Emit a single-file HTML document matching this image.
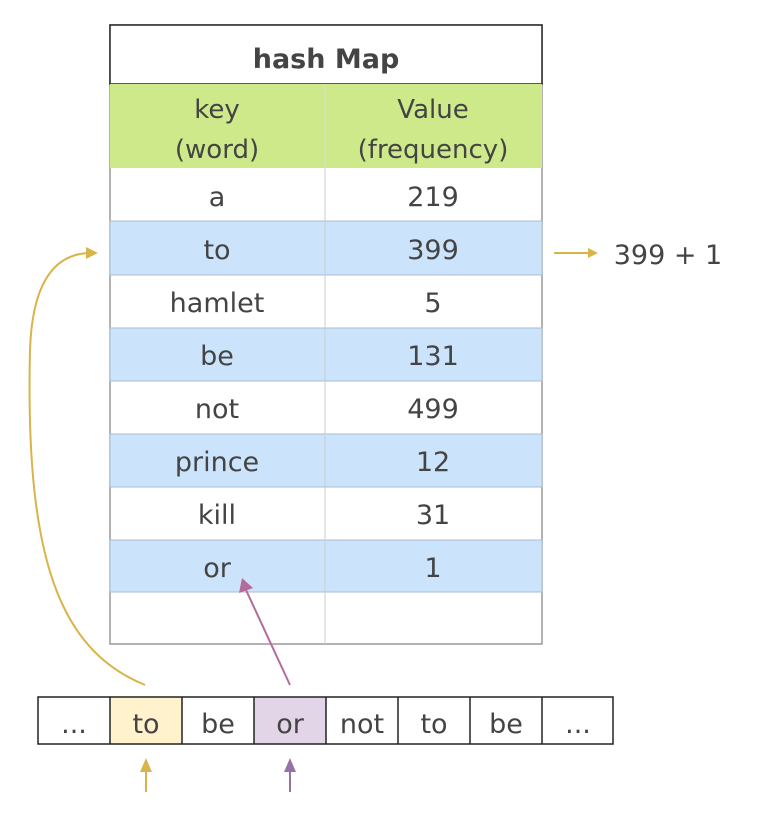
<!DOCTYPE html>
<html><head><meta charset="utf-8"><style>body{margin:0;background:#fff}svg{display:block}text{font-family:"Comic Sans MS","DejaVu Sans","Liberation Sans",sans-serif;fill:#444;text-anchor:middle}</style></head><body>
<svg width="759" height="828" viewBox="0 0 759 828" xmlns="http://www.w3.org/2000/svg">
<rect x="110" y="25" width="432" height="619" fill="#fff" stroke="#999" stroke-width="1.5"/>
<rect x="110" y="25" width="432" height="59" fill="#fff" stroke="#222" stroke-width="1.5"/>
<text x="326" y="68" font-size="27" font-weight="bold">hash Map</text>
<rect x="110" y="84" width="432" height="84" fill="#cde98a"/>
<line x1="325" y1="84" x2="325" y2="644" stroke="#ddd"/>
<text x="217" y="118" font-size="26">key</text><text x="217" y="158" font-size="26">(word)</text>
<text x="433" y="118" font-size="26">Value</text><text x="433" y="158" font-size="26">(frequency)</text>
<g font-size="27">
<rect x="110" y="221" width="432" height="54" fill="#cce4fb" stroke="#a8bccf"/>
<rect x="110" y="328" width="432" height="53" fill="#cce4fb" stroke="#a8bccf"/>
<rect x="110" y="434" width="432" height="53" fill="#cce4fb" stroke="#a8bccf"/>
<rect x="110" y="540" width="432" height="52" fill="#cce4fb" stroke="#a8bccf"/>
<line x1="325" y1="168" x2="325" y2="644" stroke="#ccc"/>
<text x="217" y="206">a</text><text x="433" y="206">219</text>
<text x="217" y="259">to</text><text x="433" y="259">399</text>
<text x="217" y="312">hamlet</text><text x="433" y="312">5</text>
<text x="217" y="365">be</text><text x="433" y="365">131</text>
<text x="217" y="418">not</text><text x="433" y="418">499</text>
<text x="217" y="471">prince</text><text x="433" y="471">12</text>
<text x="217" y="524">kill</text><text x="433" y="524">31</text>
<text x="217" y="577">or</text><text x="433" y="577">1</text>
</g>
<line x1="554" y1="253" x2="590" y2="253" stroke="#d9b44a" stroke-width="2"/>
<polygon points="598,253 588,248 588,258" fill="#d9b44a"/>
<text x="668" y="264" font-size="27">399 + 1</text>
<path d="M145,685 C60,650 25,560 30,350 C32,290 50,255 88,253" fill="none" stroke="#d9b44a" stroke-width="2"/>
<polygon points="98,253 86,247 86,259" fill="#d9b44a"/>
<line x1="290" y1="685" x2="246" y2="590" stroke="#b36b9b" stroke-width="2"/>
<polygon points="242,578 239,593 253,588" fill="#b36b9b"/>
<rect x="110" y="697" width="72" height="47" fill="#fff2cc"/>
<rect x="254" y="697" width="72" height="47" fill="#e1d5e7"/>
<rect x="38" y="697" width="575" height="47" fill="none" stroke="#222" stroke-width="1.5"/>
<g stroke="#222" stroke-width="1.5"><line x1="110" y1="697" x2="110" y2="744"/><line x1="182" y1="697" x2="182" y2="744"/><line x1="254" y1="697" x2="254" y2="744"/><line x1="326" y1="697" x2="326" y2="744"/><line x1="398" y1="697" x2="398" y2="744"/><line x1="470" y1="697" x2="470" y2="744"/><line x1="542" y1="697" x2="542" y2="744"/></g>
<g font-size="27"><text x="74" y="733">...</text><text x="146" y="733">to</text><text x="218" y="733">be</text><text x="290" y="733">or</text><text x="362" y="733">not</text><text x="434" y="733">to</text><text x="506" y="733">be</text><text x="578" y="733">...</text></g>
<line x1="146" y1="792" x2="146" y2="768" stroke="#d9b44a" stroke-width="2"/><polygon points="146,758 140,772 152,772" fill="#d9b44a"/>
<line x1="290" y1="792" x2="290" y2="768" stroke="#9673a6" stroke-width="2"/><polygon points="290,758 284,772 296,772" fill="#9673a6"/>
</svg></body></html>
